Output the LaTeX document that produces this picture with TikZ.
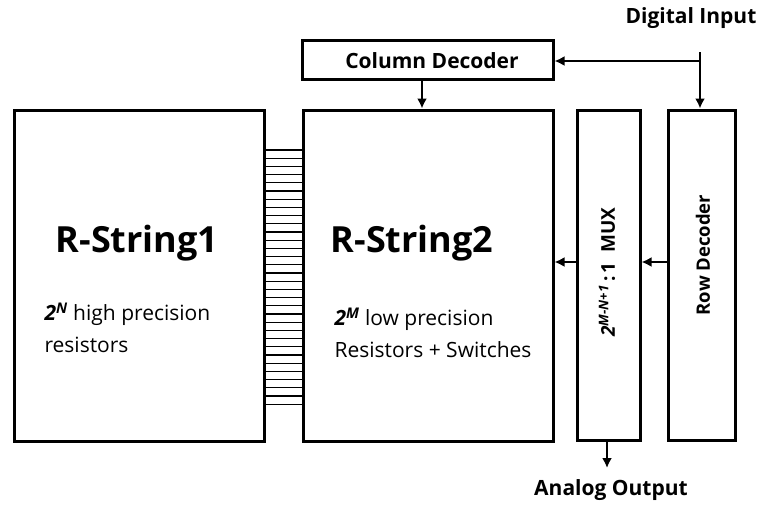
\documentclass[tikz,border=0pt]{standalone}
\usepackage{fontspec}
\setmainfont{Open Sans}
\usetikzlibrary{arrows.meta}

\tikzset{
  blk/.style={draw, line width=3pt, inner sep=0pt},
  lbl/.style={font=\bfseries\fontsize{21}{25}\selectfont},
  vlbl/.style={font=\bfseries\fontsize{18.5}{22}\selectfont, rotate=90},
  big/.style={font=\bfseries\fontsize{36}{40}\selectfont},
  txt/.style={font=\fontsize{21}{32}\selectfont, align=left, anchor=west},
  sig/.style={line width=2.6pt, -{Latex[length=10pt,width=10pt]}}
}
\newcommand{\pw}[1]{\textbf{\textit{2}}\textsuperscript{\textbf{\textit{#1}}}}

\begin{document}
\begin{tikzpicture}[x=1pt,y=-1pt]
  \useasboundingbox (0,0) rectangle (766,504);

  % blocks
  \node[blk, minimum width=250pt, minimum height=331pt] (rs1) at (139,275.5) {};
  \node[blk, minimum width=250pt, minimum height=331pt] (rs2) at (428,275.5) {};
  \node[blk, minimum width=251pt, minimum height=39pt] (col) at (427.5,59.5) {};
  \node[blk, minimum width=63pt, minimum height=330pt] (mux) at (608.5,275) {};
  \node[blk, minimum width=67pt, minimum height=330pt] (row) at (701.5,275) {};

  % texts
  \node[big] (t1) at (137,243) {R-String1};
  \node[txt] (d1) at (41,328) {\pw{N} high precision\\resistors};
  \node[big] (t2) at (412,243) {R-String2};
  \node[txt] (d2) at (331,333) {\pw{M} low precision\\Resistors + Switches};
  \node[lbl] (tc) at (432,61) {Column Decoder};
  \node[vlbl, font=\bfseries\fontsize{19}{22}\selectfont] (tm) at (607,272) {\pw{M-N+1}\,:\,1\ \ MUX};
  \node[vlbl] (tr) at (703,255) {Row Decoder};
  \node[lbl] (din) at (691,18) {Digital Input};
  \node[lbl] (aout) at (611,490) {Analog Output};

  % ladder between the two strings
  \foreach \i in {0,...,31}
    \draw[line width=1.3pt] (rs1.east |- 0,{150+\i*8.2}) -- (rs2.west |- 0,{150+\i*8.2});

  % signals
  \coordinate (top) at (700,52);
  \coordinate (jn) at (700,61);
  \draw[sig] (top) -- (row.north -| top);
  \draw[sig] (jn) -- (col.east |- jn);
  \draw[sig] (col.south -| 422,0) -- (rs2.north -| 422,0);
  \draw[sig] (row.west |- 0,262) -- (mux.east |- 0,262);
  \draw[sig] (mux.west |- 0,262) -- (rs2.east |- 0,262);
  \coordinate (out) at (607,468);
  \draw[sig] (mux.south -| out) -- (out);
\end{tikzpicture}
\end{document}
